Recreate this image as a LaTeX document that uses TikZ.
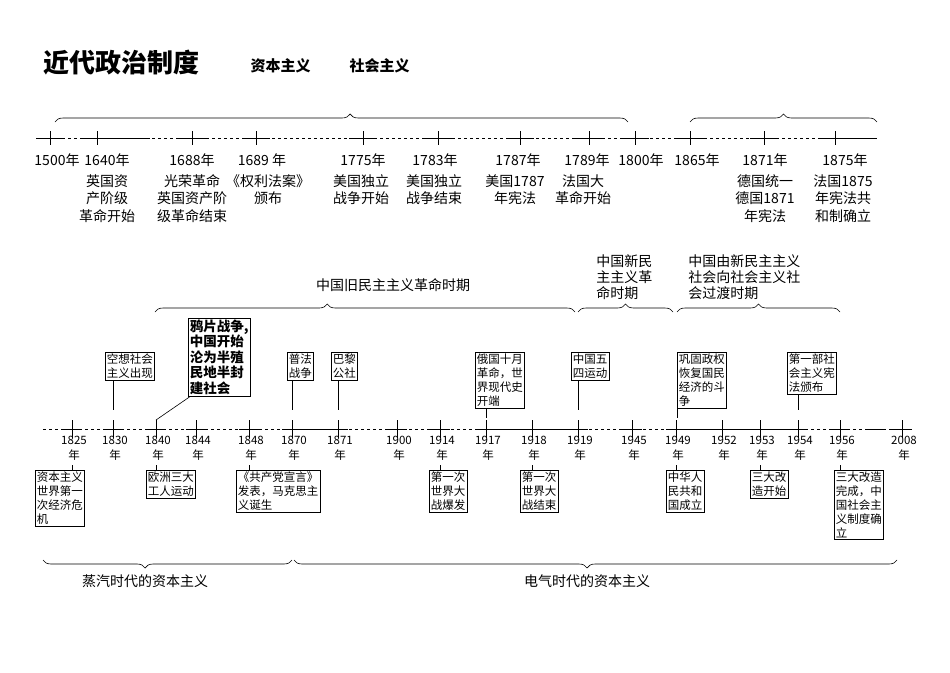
\documentclass[tikz,border=0pt]{standalone}
\usepackage{fontspec}
\setmainfont{Noto Sans CJK SC}
\usetikzlibrary{decorations.pathreplacing}

\begin{document}
\begin{tikzpicture}[%
        x = 1pt, y = -1pt,
        yearlbl/.style = {font = \fontsize{14}{14}\selectfont, inner sep = 0pt},
        eventlbl/.style = {font = \fontsize{14}{17.5}\selectfont, align = center,
            anchor = north, inner sep = 0pt},
        smallyear/.style = {font = \fontsize{11.5}{15}\selectfont, align = center,
            anchor = north, inner sep = 0pt},
        eventbox/.style = {draw, thick, font = \fontsize{11.5}{14}\selectfont,
            align = left, anchor = north west, inner sep = 1.5pt},
        bigbox/.style = {draw, thick, font = \fontsize{13.5}{15.5}\selectfont\bfseries,
            align = left, anchor = north west, inner sep = 1.5pt},
        bracelbl/.style = {font = \fontsize{14}{16}\selectfont, align = left,
            inner sep = 0pt},
        bracedeco/.style = {decorate, decoration = {brace, amplitude = 8pt, aspect = #1}},
        semithick
    ]
        \useasboundingbox (0, 0) rectangle (950, 672);

        % Title
        \node[anchor = west, font = \fontsize{26}{26}\selectfont\bfseries] (title) at (40, 63) {近代政治制度};
        \node[anchor = west, font = \fontsize{15}{15}\selectfont\bfseries] (capit) at (247, 66) {资本主义};
        \node[anchor = west, font = \fontsize{15}{15}\selectfont\bfseries] (socia) at (346, 66) {社会主义};

        % Upper timeline
        \coordinate (ta) at (50, 138);
        \coordinate (tb) at (877, 138);
        \draw[dashed] (ta) -- (tb);
        \foreach \x in {50, 97, 192, 256, 363, 438, 520, 589, 635, 690, 764, 835} {
            \draw (\x - 14, 138) -- (\x + 14, 138);
            \draw (\x, 131) -- (\x, 145);
        }
        \draw (97, 138) -- (150, 138);
        \draw (835, 138) -- (tb);
        \foreach \x/\y [count = \i] in {57/1500, 107/1640, 192/1688, 262/{1689 }, 363/1775,
                435/1783, 518/1787, 587/1789, 641/1800, 697/1865, 765/1871, 845/1875} {
            \node[yearlbl] (ty\i) at (\x, 160) {\y 年};
        }
        \node[eventlbl] (te1) at (107, 174) {英国资\\产阶级\\革命开始};
        \node[eventlbl] (te2) at (192, 174) {光荣革命\\英国资产阶\\级革命结束};
        \node[eventlbl] (te3) at (268, 174) {《权利法案》\\颁布};
        \node[eventlbl] (te4) at (361, 174) {美国独立\\战争开始};
        \node[eventlbl] (te5) at (434, 174) {美国独立\\战争结束};
        \node[eventlbl] (te6) at (515, 174) {美国1787\\年宪法};
        \node[eventlbl] (te7) at (583, 174) {法国大\\革命开始};
        \node[eventlbl] (te8) at (765, 174) {德国统一\\德国1871\\年宪法};
        \node[eventlbl] (te9) at (843, 174) {法国1875\\年宪法共\\和制确立};

        % Upper braces
        \draw[bracedeco = 0.515] (55, 122) -- (628, 122);
        \draw[bracedeco = 0.5] (690, 122) -- (877, 122);

        % Period braces
        \draw[bracedeco = 0.41] (155, 312) -- (575, 312);
        \draw[bracedeco = 0.5] (578, 312) -- (673, 312);
        \draw[bracedeco = 0.5] (677, 312) -- (840, 312);
        \node[bracelbl] (p1) at (393, 285) {中国旧民主主义革命时期};
        \node[bracelbl, anchor = north west] (p2) at (596, 254) {中国新民\\主主义革\\命时期};
        \node[bracelbl, anchor = north west] (p3) at (688, 254) {中国由新民主主义\\社会向社会主义社\\会过渡时期};

        % Lower timeline
        \coordinate (la) at (43, 429);
        \coordinate (lb) at (902, 429);
        \draw[dashed] (la) -- (lb);
        \draw (292, 429) -- (338, 429);
        \draw (486, 429) -- (578, 429);
        \draw (676, 429) -- (798, 429);
        \draw (865, 429) -- (885, 429);
        \foreach \x/\y [count = \i] in {72/1825, 113/1830, 156/1840, 196/1844, 249/1848,
                292/1870, 338/1871, 397/1900, 440/1914, 486/1917, 532/1918, 578/1919,
                632/1945, 676/1949, 722/1952, 760/1953, 798/1954, 840/1956, 902/2008} {
            \draw (\x - 10, 429) -- (\x + 10, 429);
            \draw (\x, 420) -- (\x, 438);
            \node[smallyear] (ly\i) at (\x + 2, 436) {\y\\年};
        }

        % Boxes above the line
        \node[eventbox] (b1) at (105, 352) {空想社会\\主义出现};
        \node[bigbox] (b2) at (188, 318) {鸦片战争,\\中国开始\\沦为半殖\\民地半封\\建社会};
        \node[eventbox] (b3) at (287, 352) {普法\\战争};
        \node[eventbox] (b4) at (331, 352) {巴黎\\公社};
        \node[eventbox] (b5) at (475, 352) {俄国十月\\革命，世\\界现代史\\开端};
        \node[eventbox] (b6) at (571, 352) {中国五\\四运动};
        \node[eventbox] (b7) at (677, 352) {巩固政权\\恢复国民\\经济的斗\\争};
        \node[eventbox] (b8) at (787, 352) {第一部社\\会主义宪\\法颁布};
        \draw (b1.south -| 113, 0) -- (113, 410);
        \draw (b2.south west) ++(2, 0) coordinate (b2c) -- (156, 420);
        \draw (b3.south -| 292, 0) -- (292, 410);
        \draw (b4.south -| 338, 0) -- (338, 410);
        \draw (b5.south -| 486, 0) -- (486, 418);
        \draw (b6.south -| 578, 0) -- (578, 410);
        \draw (b7.south west) -- (677, 418);
        \draw (b8.south -| 798, 0) -- (798, 410);

        % Boxes below the line
        \node[eventbox] (c1) at (35, 470) {资本主义\\世界第一\\次经济危\\机};
        \node[eventbox] (c2) at (146, 470) {欧洲三大\\工人运动};
        \node[eventbox] (c3) at (236, 470) {《共产党宣言》\\发表，马克思主\\义诞生};
        \node[eventbox] (c4) at (429, 470) {第一次\\世界大\\战爆发};
        \node[eventbox] (c5) at (520, 470) {第一次\\世界大\\战结束};
        \node[eventbox] (c6) at (666, 470) {中华人\\民共和\\国成立};
        \node[eventbox] (c7) at (750, 470) {三大改\\造开始};
        \node[eventbox] (c8) at (834, 470) {三大改造\\完成，中\\国社会主\\义制度确\\立};
        \foreach \x/\n in {72/c1, 156/c2, 249/c3, 440/c4, 532/c5, 676/c6, 760/c7, 840/c8} {
            \draw (\x, 465) -- (\n.north -| \x, 0);
        }

        % Lower braces
        \draw[bracedeco = 0.59] (292, 560) -- (43, 560);
        \draw[bracedeco = 0.514] (897, 560) -- (294, 560);
        \node[bracelbl] (s1) at (145, 581) {蒸汽时代的资本主义};
        \node[bracelbl] (s2) at (587, 581) {电气时代的资本主义};
    \end{tikzpicture}
\end{document}
